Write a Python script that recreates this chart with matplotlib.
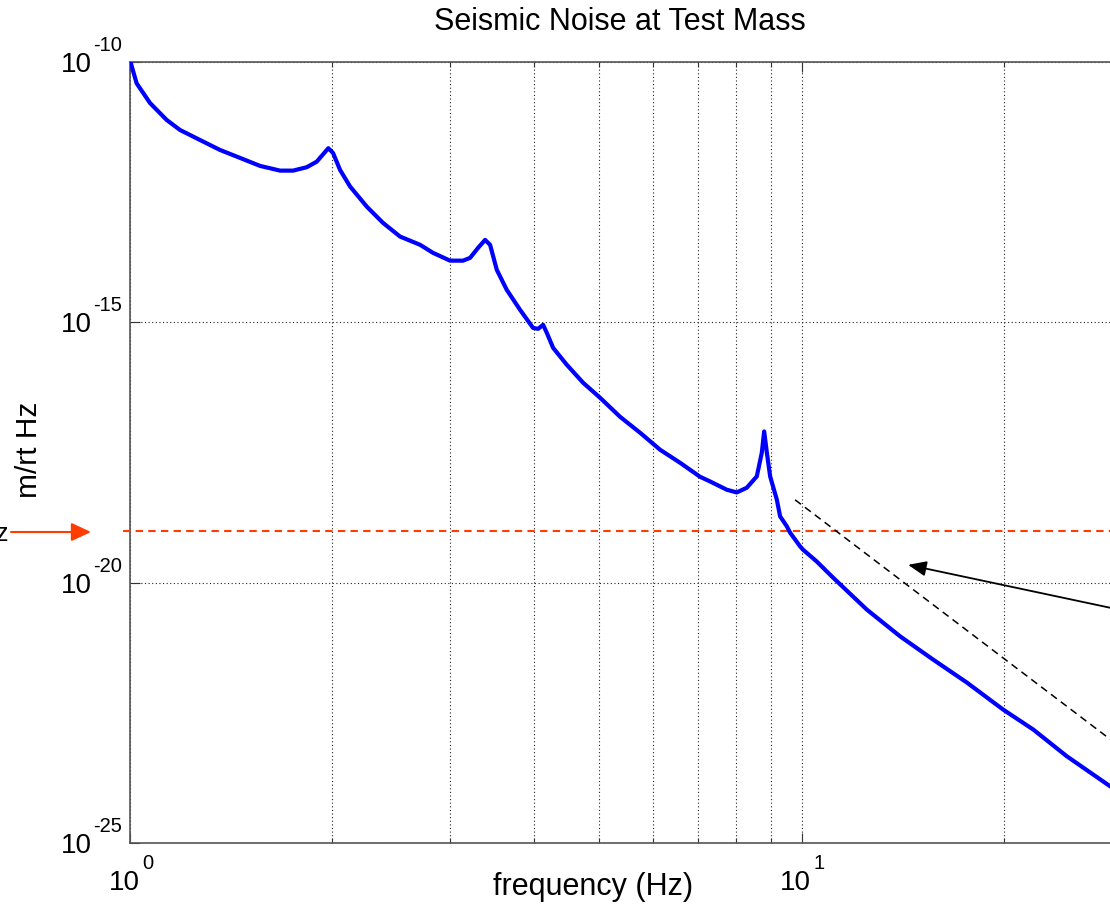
import numpy as np
import matplotlib
matplotlib.use("Agg")
import matplotlib.pyplot as plt
from matplotlib.ticker import LogLocator, FixedLocator, NullFormatter, NullLocator

plt.rcParams['font.family'] = ['Liberation Sans', 'DejaVu Sans']
plt.rcParams['lines.scale_dashes'] = False

# ---- data ----
freq_hz = [1.000, 1.003, 1.023, 1.071, 1.134, 1.187, 1.271, 1.361, 1.458, 1.562,
           1.673, 1.749, 1.833, 1.897, 1.974, 2.006, 2.055, 2.127, 2.252, 2.381,
           2.524, 2.704, 2.826, 2.996, 3.133, 3.209, 3.298, 3.379, 3.437, 3.517,
           3.639, 3.809, 3.982, 4.052, 4.122, 4.175, 4.266, 4.471, 4.729, 5.011,
           5.368, 5.749, 6.157, 6.592, 7.061, 7.307, 7.737, 8.007, 8.287, 8.577,
           8.725, 8.796, 8.878, 8.978, 9.187, 9.290, 9.506, 9.614, 9.949, 10.05,
           10.53, 11.14, 12.51, 14.02, 15.70, 17.62, 19.96, 22.13, 24.83, 28.80, 30.0]
noise_m_rthz = [1.00e-10, 9.44e-11, 3.90e-11, 1.63e-11, 7.71e-12, 4.95e-12, 3.18e-12, 2.05e-12, 1.44e-12, 1.01e-12,
                8.20e-13, 8.20e-13, 9.53e-13, 1.22e-12, 2.21e-12, 1.79e-12, 8.45e-13, 4.05e-13, 1.67e-13, 8.13e-14,
                4.44e-14, 3.08e-14, 2.16e-14, 1.53e-14, 1.53e-14, 1.73e-14, 2.69e-14, 3.83e-14, 3.08e-14, 1.02e-14,
                4.21e-15, 1.74e-15, 7.83e-16, 7.50e-16, 8.95e-16, 6.28e-16, 3.24e-16, 1.53e-16, 6.90e-17, 3.56e-17,
                1.53e-17, 7.57e-18, 3.57e-18, 2.01e-18, 1.08e-18, 8.79e-19, 6.10e-19, 5.41e-19, 6.65e-19, 1.10e-18,
                3.13e-18, 8.02e-18, 3.13e-18, 1.10e-18, 3.92e-19, 1.88e-19, 1.21e-19, 9.12e-20, 4.98e-20, 4.30e-20,
                2.56e-20, 1.25e-20, 3.03e-21, 9.31e-22, 3.33e-22, 1.21e-22, 3.65e-23, 1.51e-23, 4.63e-24, 1.23e-24, 8.61e-25]

requirement_level = 1e-19
slope_line_freq = [9.78, 30.0]
slope_line_val = [3.9e-19, 6.6e-24]
arrow_tip = (14.41, 2.2e-20)
arrow_tail = (30.0, 2.95e-21)

x_limits = (1, 30)
y_limits = (1e-25, 1e-10)
x_ticks = [1, 10]
y_ticks = [1e-25, 1e-20, 1e-15, 1e-10]

title_text = 'Seismic Noise at Test Mass'
x_label = 'frequency (Hz)'
y_label = 'm/rt Hz'
side_label = 'Hz'

# ---- figure ----
W, H = 1110, 909
fig = plt.figure(figsize=(W / 100, H / 100), dpi=100)
ax = fig.add_axes([130 / W, (H - 843) / H, (1122 - 130) / W, (843 - 62) / H])

ax.plot(freq_hz, noise_m_rthz, color='#0000FF', lw=3.0, solid_joinstyle='round', zorder=5)
ax.plot([0.976, x_limits[1]], [requirement_level, requirement_level], color='#FF3D00',
        lw=1.5, linestyle=(0, (5.3, 3.8)), clip_on=False, zorder=4)
ax.plot(slope_line_freq, slope_line_val, color='black', lw=1.1, linestyle=(0, (5.3, 3.6)), zorder=4)
ax.annotate('', xy=arrow_tip, xytext=arrow_tail, xycoords='data', textcoords='data',
            arrowprops=dict(arrowstyle='-|>,head_length=0.55,head_width=0.23', color='black',
                            lw=1.3, mutation_scale=20, shrinkA=0, shrinkB=0), zorder=6)

ax.set_xscale('log')
ax.set_yscale('log')
ax.set_xlim(*x_limits)
ax.set_ylim(*y_limits)

ax.xaxis.set_major_locator(FixedLocator(x_ticks))
ax.xaxis.set_minor_locator(LogLocator(base=10, subs=np.arange(2, 10), numticks=20))
ax.xaxis.set_minor_formatter(NullFormatter())
ax.yaxis.set_major_locator(FixedLocator(y_ticks))
ax.yaxis.set_minor_locator(NullLocator())

ax.tick_params(which='both', direction='in', top=True, right=True, color='#333333', width=0.8,
               labelbottom=False, labelleft=False)
ax.tick_params(which='major', length=7)
ax.tick_params(which='minor', length=3.6)

# MATLAB-style power-of-ten tick labels: "10" with a raised exponent
base_fs, exp_fs = 20, 14.5
xt = ax.get_xaxis_transform()
for t in x_ticks:
    e = int(round(np.log10(t)))
    ax.annotate('10', xy=(t, 0), xycoords=xt, xytext=(-6, -47), textcoords='offset pixels',
                ha='center', va='baseline', fontsize=base_fs)
    ax.annotate('%d' % e, xy=(t, 0), xycoords=xt, xytext=(12, -26), textcoords='offset pixels',
                ha='left', va='baseline', fontsize=exp_fs)
yt = ax.get_yaxis_transform()
for t in y_ticks:
    e = int(round(np.log10(t)))
    ax.annotate('10', xy=(0, t), xycoords=yt, xytext=(-38, -10), textcoords='offset pixels',
                ha='right', va='baseline', fontsize=base_fs)
    ax.annotate('-%d' % abs(e), xy=(0, t), xycoords=yt, xytext=(-37, 11), textcoords='offset pixels',
                ha='left', va='baseline', fontsize=exp_fs)

ax.grid(True, which='major', axis='both', color='#222222', lw=0.8, linestyle=(0, (0.8, 1.8)))
ax.grid(True, which='minor', axis='x', color='#222222', lw=0.8, linestyle=(0, (0.8, 1.8)))

for s in ax.spines.values():
    s.set_color('#555555')
    s.set_linewidth(1.2)

ax.set_title(title_text, fontsize=22, x=(619.5 - 130) / 992, y=(843 - 30) / 781, va='baseline', pad=0)
ax.set_xlabel(x_label, fontsize=22)
ax.xaxis.label.set_va('baseline')
ax.xaxis.set_label_coords((593 - 130) / 992, (843 - 895) / 781)
ax.set_ylabel(y_label, fontsize=21.5)
ax.yaxis.label.set_va('center')
ax.yaxis.set_label_coords((29 - 130) / 992, (843 - 450) / 781)

# left-side pointer to the requirement level
ax.annotate('', xy=(91, H - 532), xytext=(11, H - 532), xycoords='figure pixels', textcoords='figure pixels',
            arrowprops=dict(arrowstyle='-|>,head_length=0.6,head_width=0.28', color='#FF3D00',
                            lw=1.5, mutation_scale=20, shrinkA=0, shrinkB=0))
fig.text(8 / W, (H - 541) / H, side_label, fontsize=18, ha='right', va='baseline', color='black')

fig.savefig('out.png', dpi=100)
